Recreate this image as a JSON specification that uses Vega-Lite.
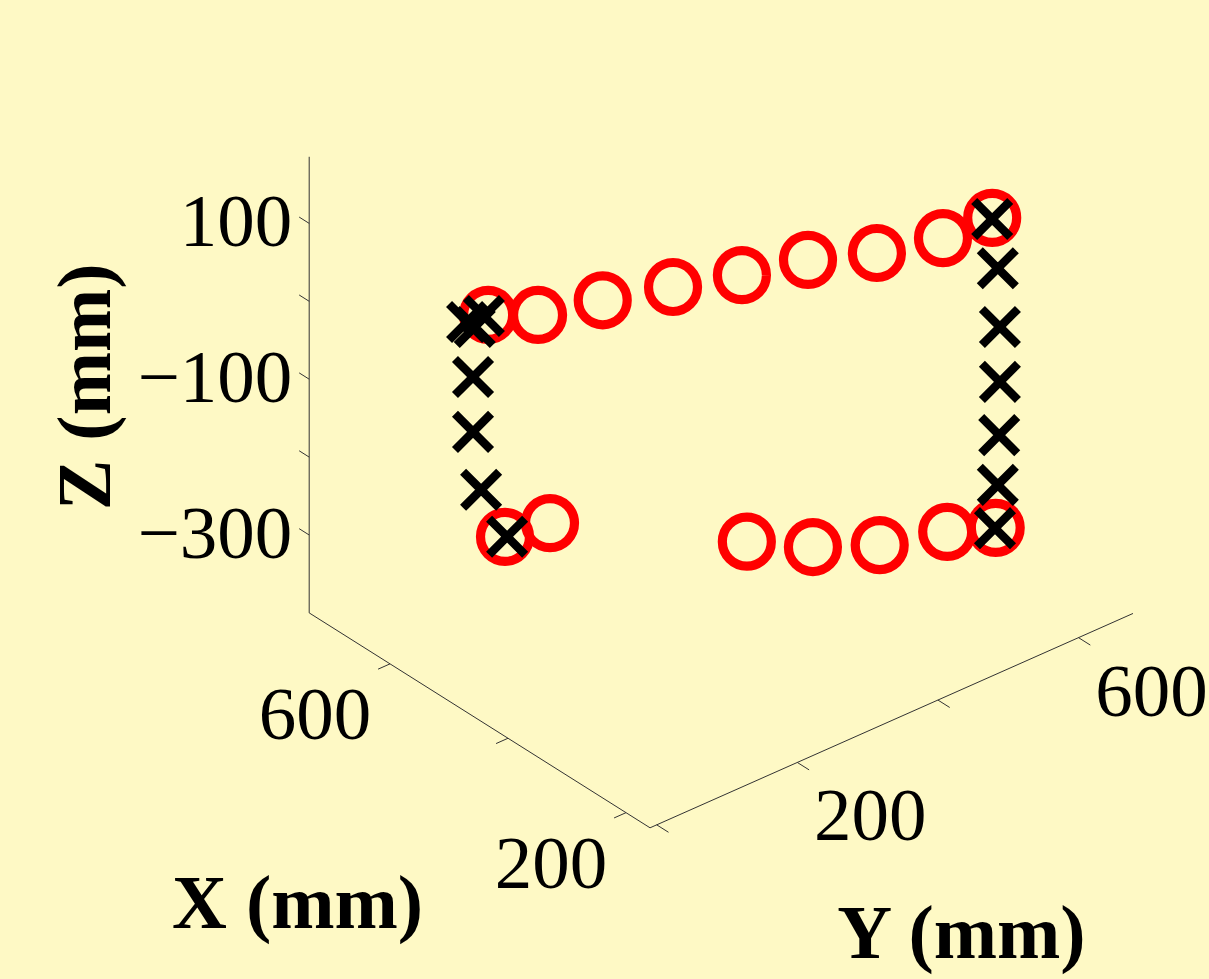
{
  "$schema": "https://vega.github.io/schema/vega-lite/v6.json",
  "width": 1209,
  "height": 979,
  "autosize": {"type": "fit", "contains": "padding"},
  "padding": 0,
  "background": "#FEF9C5",
  "config": {"view": {"stroke": null}},
  "datasets": {
    "pts": [
      {"series": "circle", "X": 420, "Y": -21, "Z": 138.5},
      {"series": "circle", "X": 420, "Y": 50, "Z": 110},
      {"series": "circle", "X": 420, "Y": 142, "Z": 92},
      {"series": "circle", "X": 420, "Y": 242, "Z": 69},
      {"series": "circle", "X": 420, "Y": 340, "Z": 45},
      {"series": "circle", "X": 420, "Y": 434, "Z": 27},
      {"series": "circle", "X": 420, "Y": 532, "Z": -3.5},
      {"series": "circle", "X": 420, "Y": 626, "Z": -22},
      {"series": "circle", "X": 420, "Y": 696, "Z": -24},
      {"series": "circle", "X": 420, "Y": 3, "Z": -156},
      {"series": "circle", "X": 420, "Y": 67, "Z": -164},
      {"series": "circle", "X": 420, "Y": 347, "Z": -300},
      {"series": "circle", "X": 420, "Y": 441, "Z": -344.5},
      {"series": "circle", "X": 420, "Y": 536, "Z": -380},
      {"series": "circle", "X": 420, "Y": 632, "Z": -401.5},
      {"series": "circle", "X": 420, "Y": 701, "Z": -424},
      {"series": "cross", "X": 420, "Y": -51, "Z": 141.5},
      {"series": "cross", "X": 420, "Y": -27, "Z": 139.5},
      {"series": "cross", "X": 420, "Y": -40, "Z": 130.5},
      {"series": "cross", "X": 420, "Y": -42.5, "Z": 67.5},
      {"series": "cross", "X": 420, "Y": -42.5, "Z": -3},
      {"series": "cross", "X": 420, "Y": -31, "Z": -82},
      {"series": "cross", "X": 420, "Y": 6, "Z": -157},
      {"series": "cross", "X": 420, "Y": 696, "Z": -25.5},
      {"series": "cross", "X": 420, "Y": 704, "Z": -92},
      {"series": "cross", "X": 420, "Y": 707, "Z": -168.5},
      {"series": "cross", "X": 420, "Y": 707, "Z": -239},
      {"series": "cross", "X": 420, "Y": 706, "Z": -307},
      {"series": "cross", "X": 420, "Y": 704, "Z": -370},
      {"series": "cross", "X": 420, "Y": 700, "Z": -424}
    ],
    "segs": [
      {"X1": 737, "Y1": -9.5, "Z1": -400, "X2": 737, "Y2": -9.5, "Z2": 185.5},
      {"X1": 737, "Y1": -9.5, "Z1": -400, "X2": 159.3, "Y2": -9.5, "Z2": -400},
      {"X1": 159.3, "Y1": -9.5, "Z1": -400, "X2": 159.3, "Y2": 677.5, "Z2": -400},
      {"X1": 737, "Y1": -9.5, "Z1": 100, "X2": 754, "Y2": -9.5, "Z2": 100},
      {"X1": 737, "Y1": -9.5, "Z1": 0, "X2": 754, "Y2": -9.5, "Z2": 0},
      {"X1": 737, "Y1": -9.5, "Z1": -100, "X2": 754, "Y2": -9.5, "Z2": -100},
      {"X1": 737, "Y1": -9.5, "Z1": -200, "X2": 754, "Y2": -9.5, "Z2": -200},
      {"X1": 737, "Y1": -9.5, "Z1": -300, "X2": 754, "Y2": -9.5, "Z2": -300},
      {"X1": 600, "Y1": -9.5, "Z1": -400, "X2": 600, "Y2": -26.5, "Z2": -400},
      {"X1": 400, "Y1": -9.5, "Z1": -400, "X2": 400, "Y2": -26.5, "Z2": -400},
      {"X1": 200, "Y1": -9.5, "Z1": -400, "X2": 200, "Y2": -26.5, "Z2": -400},
      {"X1": 159.3, "Y1": 0, "Z1": -400, "X2": 139.3, "Y2": 0, "Z2": -400},
      {"X1": 159.3, "Y1": 200, "Z1": -400, "X2": 139.3, "Y2": 200, "Z2": -400},
      {"X1": 159.3, "Y1": 400, "Z1": -400, "X2": 139.3, "Y2": 400, "Z2": -400},
      {"X1": 159.3, "Y1": 600, "Z1": -400, "X2": 139.3, "Y2": 600, "Z2": -400}
    ],
    "zlab": [
      {"t": "100", "X": 737, "Y": -9.5, "Z": 100},
      {"t": "−100", "X": 737, "Y": -9.5, "Z": -100},
      {"t": "−300", "X": 737, "Y": -9.5, "Z": -300}
    ],
    "xlab": [
      {"t": "600", "X": 600, "Y": -9.5, "Z": -400},
      {"t": "200", "X": 200, "Y": -9.5, "Z": -400}
    ],
    "ylab": [
      {"t": "200", "X": 159.3, "Y": 200, "Z": -400},
      {"t": "600", "X": 159.3, "Y": 600, "Z": -400}
    ],
    "ztitle": [{"t": "Z (mm)", "X": 737, "Y": -9.5, "Z": -107.25}],
    "xtitle": [{"t": "X (mm)", "X": 448.15, "Y": -9.5, "Z": -400}],
    "ytitle": [{"t": "Y (mm)", "X": 159.3, "Y": 334, "Z": -400}]
  },
  "layer": [
    {
      "data": {"name": "segs"},
      "transform": [
        {"calculate": "750.7 - 0.59*datum.X1 + 0.703*datum.Y1", "as": "sx"},
        {"calculate": "572.5 - 0.372*datum.X1 - 0.312*datum.Y1 - 0.779*datum.Z1", "as": "sy"},
        {"calculate": "750.7 - 0.59*datum.X2 + 0.703*datum.Y2", "as": "sx2"},
        {"calculate": "572.5 - 0.372*datum.X2 - 0.312*datum.Y2 - 0.779*datum.Z2", "as": "sy2"}
      ],
      "mark": {"type": "rule", "stroke": "#333333", "strokeWidth": 1},
      "encoding": {
        "x": {"field": "sx", "type": "quantitative", "scale": {"domain": [0, 1209], "nice": false, "zero": false}, "axis": null},
        "y": {"field": "sy", "type": "quantitative", "scale": {"domain": [0, 979], "nice": false, "zero": false, "reverse": true}, "axis": null},
        "x2": {"field": "sx2"},
        "y2": {"field": "sy2"}
      }
    },
    {
      "data": {"name": "pts"},
      "transform": [
        {"filter": "datum.series === 'circle'"},
        {"calculate": "750.7 - 0.59*datum.X + 0.703*datum.Y", "as": "sx"},
        {"calculate": "572.5 - 0.372*datum.X - 0.312*datum.Y - 0.779*datum.Z", "as": "sy"}
      ],
      "mark": {"type": "point", "shape": "circle", "filled": false, "stroke": "#FF0000", "strokeWidth": 9.2, "size": 2400, "opacity": 1},
      "encoding": {
        "x": {"field": "sx", "type": "quantitative", "scale": {"domain": [0, 1209], "nice": false, "zero": false}, "axis": null},
        "y": {"field": "sy", "type": "quantitative", "scale": {"domain": [0, 979], "nice": false, "zero": false, "reverse": true}, "axis": null}
      }
    },
    {
      "data": {"name": "pts"},
      "transform": [
        {"filter": "datum.series === 'cross'"},
        {"calculate": "750.7 - 0.59*datum.X + 0.703*datum.Y", "as": "sx"},
        {"calculate": "572.5 - 0.372*datum.X - 0.312*datum.Y - 0.779*datum.Z", "as": "sy"}
      ],
      "mark": {"type": "point", "shape": "M-1,-1L1,1M-1,1L1,-1", "filled": false, "stroke": "#000000", "strokeWidth": 8.5, "strokeCap": "butt", "size": 1300, "opacity": 1},
      "encoding": {
        "x": {"field": "sx", "type": "quantitative", "scale": {"domain": [0, 1209], "nice": false, "zero": false}, "axis": null},
        "y": {"field": "sy", "type": "quantitative", "scale": {"domain": [0, 979], "nice": false, "zero": false, "reverse": true}, "axis": null}
      }
    },
    {
      "data": {"name": "zlab"},
      "transform": [
        {"calculate": "750.7 - 0.59*datum.X + 0.703*datum.Y", "as": "sx"},
        {"calculate": "572.5 - 0.372*datum.X - 0.312*datum.Y - 0.779*datum.Z", "as": "sy"}
      ],
      "mark": {"type": "text", "font": "Liberation Serif", "fontSize": 75, "align": "right", "baseline": "middle", "dx": -17, "dy": 0, "color": "#000000"},
      "encoding": {
        "x": {"field": "sx", "type": "quantitative", "scale": {"domain": [0, 1209], "nice": false, "zero": false}, "axis": null},
        "y": {"field": "sy", "type": "quantitative", "scale": {"domain": [0, 979], "nice": false, "zero": false, "reverse": true}, "axis": null},
        "text": {"field": "t"}
      }
    },
    {
      "data": {"name": "xlab"},
      "transform": [
        {"calculate": "750.7 - 0.59*datum.X + 0.703*datum.Y", "as": "sx"},
        {"calculate": "572.5 - 0.372*datum.X - 0.312*datum.Y - 0.779*datum.Z", "as": "sy"}
      ],
      "mark": {"type": "text", "font": "Liberation Serif", "fontSize": 75, "align": "center", "baseline": "middle", "dx": -75, "dy": 52, "color": "#000000"},
      "encoding": {
        "x": {"field": "sx", "type": "quantitative", "scale": {"domain": [0, 1209], "nice": false, "zero": false}, "axis": null},
        "y": {"field": "sy", "type": "quantitative", "scale": {"domain": [0, 979], "nice": false, "zero": false, "reverse": true}, "axis": null},
        "text": {"field": "t"}
      }
    },
    {
      "data": {"name": "ylab"},
      "transform": [
        {"calculate": "750.7 - 0.59*datum.X + 0.703*datum.Y", "as": "sx"},
        {"calculate": "572.5 - 0.372*datum.X - 0.312*datum.Y - 0.779*datum.Z", "as": "sy"}
      ],
      "mark": {"type": "text", "font": "Liberation Serif", "fontSize": 75, "align": "center", "baseline": "middle", "dx": 73, "dy": 55, "color": "#000000"},
      "encoding": {
        "x": {"field": "sx", "type": "quantitative", "scale": {"domain": [0, 1209], "nice": false, "zero": false}, "axis": null},
        "y": {"field": "sy", "type": "quantitative", "scale": {"domain": [0, 979], "nice": false, "zero": false, "reverse": true}, "axis": null},
        "text": {"field": "t"}
      }
    },
    {
      "data": {"name": "ztitle"},
      "transform": [
        {"calculate": "750.7 - 0.59*datum.X + 0.703*datum.Y", "as": "sx"},
        {"calculate": "572.5 - 0.372*datum.X - 0.312*datum.Y - 0.779*datum.Z", "as": "sy"}
      ],
      "mark": {"type": "text", "font": "Liberation Serif", "fontSize": 76, "fontWeight": "bold", "align": "center", "baseline": "middle", "angle": 270, "dx": -2, "dy": -222, "color": "#000000"},
      "encoding": {
        "x": {"field": "sx", "type": "quantitative", "scale": {"domain": [0, 1209], "nice": false, "zero": false}, "axis": null},
        "y": {"field": "sy", "type": "quantitative", "scale": {"domain": [0, 979], "nice": false, "zero": false, "reverse": true}, "axis": null},
        "text": {"field": "t"}
      }
    },
    {
      "data": {"name": "xtitle"},
      "transform": [
        {"calculate": "750.7 - 0.59*datum.X + 0.703*datum.Y", "as": "sx"},
        {"calculate": "572.5 - 0.372*datum.X - 0.312*datum.Y - 0.779*datum.Z", "as": "sy"}
      ],
      "mark": {"type": "text", "font": "Liberation Serif", "fontSize": 76, "fontWeight": "bold", "align": "center", "baseline": "middle", "dx": -182, "dy": 185, "color": "#000000"},
      "encoding": {
        "x": {"field": "sx", "type": "quantitative", "scale": {"domain": [0, 1209], "nice": false, "zero": false}, "axis": null},
        "y": {"field": "sy", "type": "quantitative", "scale": {"domain": [0, 979], "nice": false, "zero": false, "reverse": true}, "axis": null},
        "text": {"field": "t"}
      }
    },
    {
      "data": {"name": "ytitle"},
      "transform": [
        {"calculate": "750.7 - 0.59*datum.X + 0.703*datum.Y", "as": "sx"},
        {"calculate": "572.5 - 0.372*datum.X - 0.312*datum.Y - 0.779*datum.Z", "as": "sy"}
      ],
      "mark": {"type": "text", "font": "Liberation Serif", "fontSize": 76, "fontWeight": "bold", "align": "center", "baseline": "middle", "dx": 70, "dy": 214, "color": "#000000"},
      "encoding": {
        "x": {"field": "sx", "type": "quantitative", "scale": {"domain": [0, 1209], "nice": false, "zero": false}, "axis": null},
        "y": {"field": "sy", "type": "quantitative", "scale": {"domain": [0, 979], "nice": false, "zero": false, "reverse": true}, "axis": null},
        "text": {"field": "t"}
      }
    }
  ]
}
